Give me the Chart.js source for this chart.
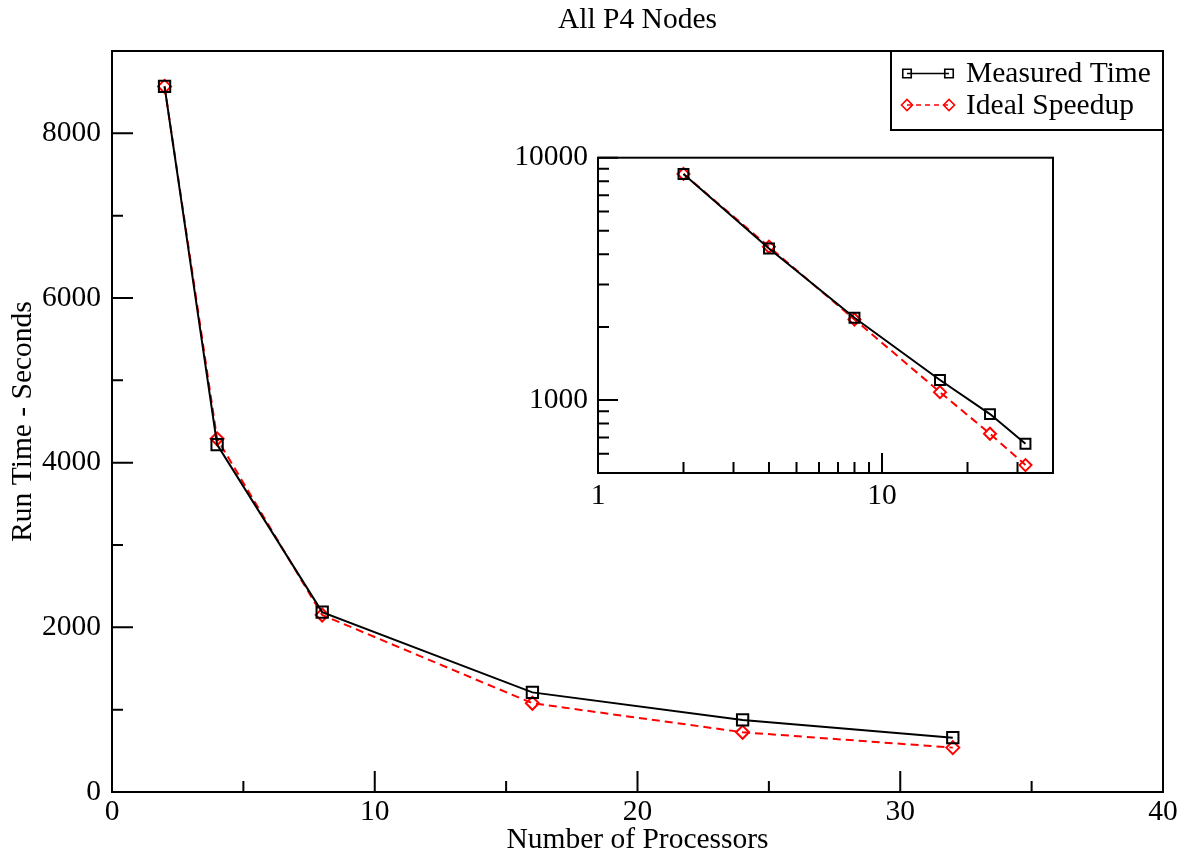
<!DOCTYPE html>
<html>
<head>
<meta charset="utf-8">
<script src="https://cdn.jsdelivr.net/npm/chart.js@4.4.1/dist/chart.umd.min.js"></script>
<style>
html, body { margin: 0; padding: 0; background: #fff; }
#wrap { position: relative; width: 1188px; height: 858px; background: #fff; overflow: hidden; }
#main { position: absolute; left: 0; top: 0; }
#inset { position: absolute; left: 500px; top: 130px; }
</style>
</head>
<body>
<div id="wrap">
  <canvas id="main" width="1188" height="858"></canvas>
  <canvas id="inset" width="570" height="380"></canvas>
</div>
<script>
// ---- data ----
const processors = [2, 4, 8, 16, 24, 32];
const measuredTime = [8570, 4220, 2185, 1210, 875, 660];
const idealSpeedup = [8570, 4290, 2150, 1078, 726, 539];
const seriesNames = ['Measured Time', 'Ideal Speedup'];
const chartTitle = 'All P4 Nodes';
const xAxisTitle = 'Number of Processors';
const yAxisTitle = 'Run Time - Seconds';
const xTickLabels = [0, 10, 20, 30, 40];
const xMinorTicks = [5, 15, 25, 35];
const yTickLabels = [0, 2000, 4000, 6000, 8000];
const yMinorTicks = [1000, 3000, 5000, 7000];
const insetXTickLabels = [1, 10];
const insetXMinorTicks = [2, 3, 4, 5, 6, 7, 8, 9, 20, 30];
const insetYTickLabels = [1000, 10000];
const insetYMinorTicks = [600, 700, 800, 900, 2000, 3000, 4000, 5000, 6000, 7000, 8000, 9000];

// ---- styling ----
const FAMILY = "'Liberation Serif', 'Times New Roman', Times, serif";
const FS = 29.5;
Chart.defaults.color = '#000';
Chart.defaults.font.family = FAMILY;

function pts(ys) { return processors.map((p, i) => ({ x: p, y: ys[i] })); }

function makeDatasets(sqR, diaR) {
  return [
    {
      label: seriesNames[0], data: pts(measuredTime),
      borderColor: '#000', borderWidth: 2, tension: 0, fill: false,
      pointStyle: 'rect', pointRadius: sqR, pointBorderColor: '#000',
      pointBackgroundColor: 'rgba(0,0,0,0)', pointBorderWidth: 2
    },
    {
      label: seriesNames[1], data: pts(idealSpeedup),
      borderColor: '#ff0000', borderWidth: 2, borderDash: [8, 5], tension: 0, fill: false,
      pointStyle: 'rectRot', pointRadius: diaR, pointBorderColor: '#ff0000',
      pointBackgroundColor: 'rgba(0,0,0,0)', pointBorderWidth: 2
    }
  ];
}

const frameTicksPlugin = {
  id: 'frameTicks',
  beforeDraw(chart, args, o) {
    const { ctx, chartArea: a } = chart;
    if (o.fill) { ctx.save(); ctx.fillStyle = '#fff'; ctx.fillRect(a.left, a.top, a.right - a.left, a.bottom - a.top); ctx.restore(); }
  },
  beforeDatasetsDraw(chart, args, o) {
    const { ctx, chartArea: a, scales: { x, y } } = chart;
    ctx.save();
    ctx.strokeStyle = '#000';
    ctx.lineWidth = 2;
    ctx.beginPath();
    const xt = (vals, len) => vals.forEach(v => { const px = x.getPixelForValue(v); ctx.moveTo(px, a.bottom); ctx.lineTo(px, a.bottom - len); });
    const yt = (vals, len) => vals.forEach(v => { const py = y.getPixelForValue(v); ctx.moveTo(a.left, py); ctx.lineTo(a.left + len, py); });
    xt(o.xMajor, o.major); xt(o.xMinor, o.minor);
    yt(o.yMajor, o.major); yt(o.yMinor, o.minor);
    ctx.stroke();
    ctx.strokeRect(a.left, a.top, a.right - a.left, a.bottom - a.top);
    ctx.restore();
  }
};

function marker(ctx, style, x, y, r) {
  ctx.beginPath();
  if (style === 'rect') {
    const s = r * Math.SQRT1_2;
    ctx.rect(x - s, y - s, 2 * s, 2 * s);
  } else {
    ctx.moveTo(x - r, y); ctx.lineTo(x, y - r); ctx.lineTo(x + r, y); ctx.lineTo(x, y + r); ctx.closePath();
  }
  ctx.stroke();
}

const legendBoxPlugin = {
  id: 'legendBox',
  afterDatasetsDraw(chart) {
    const { ctx, chartArea: a } = chart;
    const w = 272, h = 79, left = a.right - w, top = a.top;
    ctx.save();
    ctx.fillStyle = '#fff';
    ctx.fillRect(left, top, w, h);
    ctx.strokeStyle = '#000';
    ctx.lineWidth = 2;
    ctx.strokeRect(left, top, w, h);
    const rows = [top + 22.5, top + 54];
    chart.data.datasets.forEach((ds, i) => {
      const yy = rows[i], x1 = left + 16, x2 = left + 58;
      ctx.strokeStyle = ds.borderColor;
      ctx.lineWidth = 1.5;
      ctx.setLineDash(ds.borderDash ? [5, 4] : []);
      ctx.beginPath(); ctx.moveTo(x1, yy); ctx.lineTo(x2, yy); ctx.stroke();
      ctx.setLineDash([]);
      ctx.lineWidth = 1.6;
      const r = ds.pointStyle === 'rect' ? 6 : 5.5;
      marker(ctx, ds.pointStyle, x1, yy, r);
      marker(ctx, ds.pointStyle, x2, yy, r);
      ctx.fillStyle = '#000';
      ctx.font = FS + 'px ' + FAMILY;
      ctx.textBaseline = 'middle';
      ctx.textAlign = 'left';
      ctx.fillText(ds.label, left + 75, yy + 1);
    });
    ctx.restore();
  }
};

const tickFont = { family: FAMILY, size: FS };

// ---- main chart ----
new Chart(document.getElementById('main'), {
  type: 'line',
  data: { datasets: makeDatasets(8, 6.5) },
  plugins: [frameTicksPlugin, legendBoxPlugin],
  options: {
    responsive: false,
    animation: false,
    events: [],
    layout: { padding: { left: 0, right: 25, top: 0, bottom: 0 } },
    plugins: {
      legend: { display: false },
      tooltip: { enabled: false },
      title: {
        display: true, text: chartTitle, fullSize: false, color: '#000',
        font: { family: FAMILY, size: FS, weight: 'normal', lineHeight: 1.2 },
        padding: { top: 3, bottom: 12.6 }
      },
      frameTicks: { xMajor: xTickLabels, xMinor: xMinorTicks, yMajor: yTickLabels, yMinor: yMinorTicks, major: 21, minor: 11 }
    },
    scales: {
      x: {
        type: 'linear', min: 0, max: 40,
        afterBuildTicks: s => { s.ticks = xTickLabels.map(v => ({ value: v })); },
        afterFit: s => { s.height = 66; },
        grid: { display: false, drawTicks: false },
        border: { display: false },
        ticks: { font: { ...tickFont, lineHeight: 1.2 }, padding: 3, autoSkip: false, maxRotation: 0, callback: v => String(v) },
        title: { display: true, text: xAxisTitle, font: { family: FAMILY, size: FS, lineHeight: 1 }, padding: { top: 0, bottom: 3 } }
      },
      y: {
        type: 'linear', min: 0, max: 9000,
        afterBuildTicks: s => { s.ticks = yTickLabels.map(v => ({ value: v })); },
        afterFit: s => { s.width = 112; },
        grid: { display: false, drawTicks: false },
        border: { display: false },
        ticks: { font: tickFont, padding: 11, autoSkip: false, callback: v => String(v) },
        title: { display: true, text: yAxisTitle, font: { family: FAMILY, size: FS, lineHeight: 1 }, padding: { top: 8, bottom: 0 } }
      }
    }
  }
});

// ---- inset chart (log-log) ----
new Chart(document.getElementById('inset'), {
  type: 'line',
  data: { datasets: makeDatasets(7, 6) },
  plugins: [frameTicksPlugin],
  options: {
    responsive: false,
    animation: false,
    events: [],
    layout: { padding: { left: 0, right: 17, top: 26, bottom: 0 } },
    plugins: {
      legend: { display: false },
      tooltip: { enabled: false },
      title: { display: false },
      frameTicks: { fill: true, xMajor: insetXTickLabels, xMinor: insetXMinorTicks, yMajor: insetYTickLabels, yMinor: insetYMinorTicks, major: 20, minor: 11 }
    },
    scales: {
      x: {
        type: 'logarithmic', min: 1, max: 40,
        afterBuildTicks: s => { s.ticks = insetXTickLabels.map(v => ({ value: v })); },
        afterFit: s => { s.height = 37; },
        grid: { display: false, drawTicks: false },
        border: { display: false },
        ticks: { font: { ...tickFont, lineHeight: 1 }, padding: 8, autoSkip: false, maxRotation: 0, callback: v => String(v) }
      },
      y: {
        type: 'logarithmic', min: 500, max: 10000,
        afterBuildTicks: s => { s.ticks = insetYTickLabels.map(v => ({ value: v })); },
        afterFit: s => { s.width = 98; },
        grid: { display: false, drawTicks: false },
        border: { display: false },
        ticks: { font: tickFont, padding: 10, autoSkip: false, callback: v => String(v) }
      }
    }
  }
});
</script>
</body>
</html>
